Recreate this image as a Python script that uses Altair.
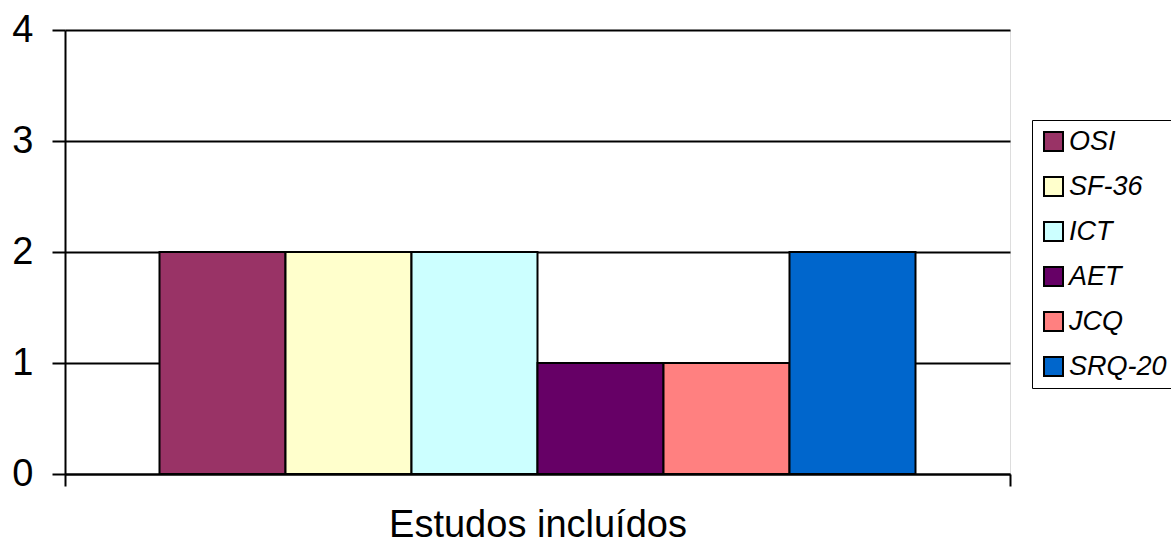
import altair as alt
import pandas as pd

# Number of included studies per instrument
instrumentos = ["OSI", "SF-36", "ICT", "AET", "JCQ", "SRQ-20"]
estudos = [2, 2, 2, 1, 1, 2]
cores = ["#993366", "#FFFFCC", "#CCFFFF", "#660066", "#FF8080", "#0066CC"]
grupo = "Estudos incluídos"

df = pd.DataFrame({
    "grupo": [grupo] * len(instrumentos),
    "instrumento": instrumentos,
    "estudos": estudos,
})

FONT = "Liberation Sans"
LINE = 2

chart = alt.Chart(df).mark_bar(stroke="black", strokeWidth=LINE).encode(
    x=alt.X(
        "grupo:N",
        scale=alt.Scale(paddingInner=0, paddingOuter=0),
        axis=alt.Axis(
            title=grupo,
            labels=False,
            tickBand="extent",
            tickSize=12,
            tickColor="black",
            tickWidth=LINE,
            domainColor="black",
            domainWidth=LINE,
            titleFont=FONT,
            titleFontSize=38,
            titleFontWeight="normal",
            titleColor="black",
            titlePadding=19,
        ),
    ),
    xOffset=alt.XOffset(
        "instrumento:N",
        sort=instrumentos,
        scale=alt.Scale(paddingInner=0, paddingOuter=0.75),
    ),
    y=alt.Y(
        "estudos:Q",
        scale=alt.Scale(domain=[0, 4], nice=False),
        axis=alt.Axis(
            title=None,
            values=[0, 1, 2, 3, 4],
            format="d",
            grid=True,
            gridColor="black",
            gridWidth=LINE,
            gridOpacity=1,
            domainColor="black",
            domainWidth=LINE,
            tickColor="black",
            tickWidth=LINE,
            tickSize=13,
            labelFont=FONT,
            labelFontSize=38,
            labelColor="black",
            labelPadding=19,
        ),
    ),
    color=alt.Color(
        "instrumento:N",
        sort=instrumentos,
        scale=alt.Scale(domain=instrumentos, range=cores),
        legend=alt.Legend(
            title=None,
            orient="none",
            legendX=967,
            legendY=90,
            strokeColor="black",
            fillColor="white",
            padding=8,
            symbolType="square",
            symbolSize=361,
            symbolStrokeColor="black",
            symbolStrokeWidth=LINE,
            symbolOpacity=1,
            labelFont=FONT,
            labelFontSize=27,
            labelFontStyle="italic",
            labelColor="black",
            labelOffset=2,
            rowPadding=17,
        ),
    ),
).properties(
    width=945,
    height=444,
    autosize=alt.AutoSizeParams(type="none"),
    padding={"left": 65, "top": 30, "right": 161, "bottom": 69},
).configure_view(
    stroke="black",
    strokeWidth=LINE,
).configure_legend(
    strokeWidth=LINE,
).configure(
    background="white",
)

chart.save("out.html", embed_options={"renderer": "svg", "actions": False})
